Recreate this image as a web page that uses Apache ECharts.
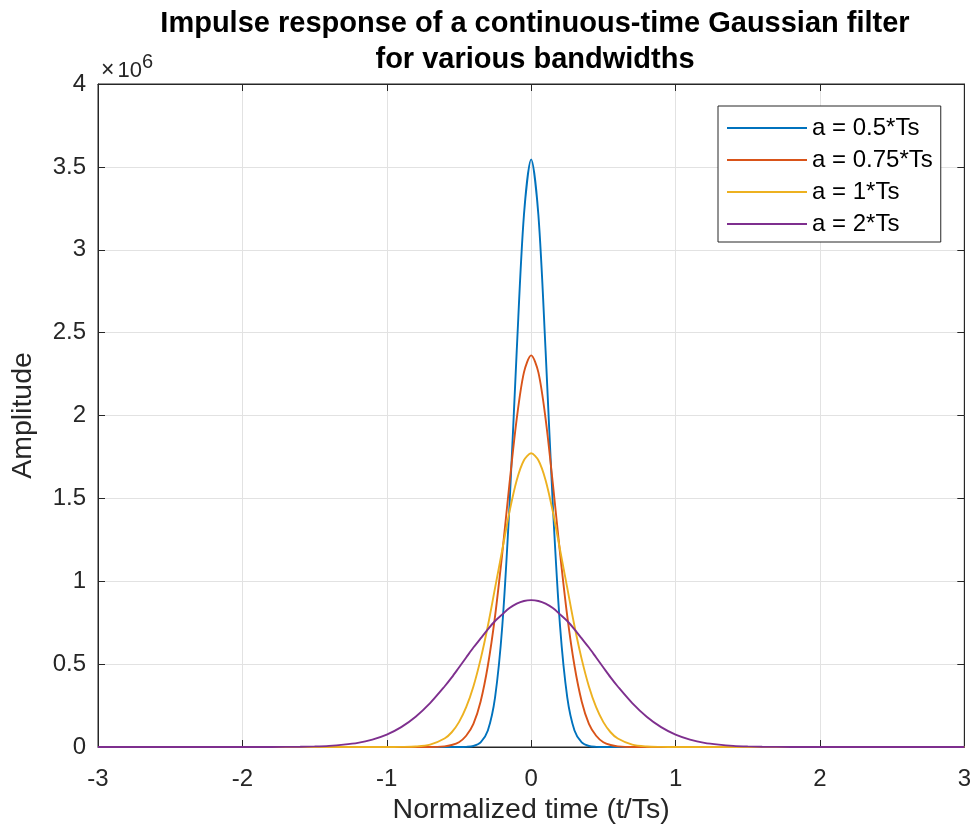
<!DOCTYPE html>
<html>
<head>
<meta charset="utf-8">
<script src="https://cdn.jsdelivr.net/npm/echarts@6/dist/echarts.min.js"></script>
<style>html,body{margin:0;padding:0;background:#fff}#c{width:974px;height:832px}</style>
</head>
<body>
<div id="c"></div>
<script>
// Normalized time (t/Ts)
const time = [-3, -2, -1.8, -1.6, -1.5, -1.4, -1.3, -1.2, -1.1, -1.0, -0.9, -0.8, -0.7, -0.6, -0.55, -0.5, -0.45, -0.4, -0.35, -0.3, -0.25, -0.2, -0.15, -0.1, -0.05,
  0,
  0.05, 0.1, 0.15, 0.2, 0.25, 0.3, 0.35, 0.4, 0.45, 0.5, 0.55, 0.6, 0.7, 0.8, 0.9, 1.0, 1.1, 1.2, 1.3, 1.4, 1.5, 1.6, 1.8, 2, 3];
// Amplitude in units of 1e6
const ampA05 = [0, 0, 0, 0, 0, 0, 0, 0, 0, 0, 0, 0, 0, 0, 0, 0, 0.001, 0.006, 0.028, 0.10, 0.30, 0.73, 1.46, 2.39, 3.21,
  3.545,
  3.21, 2.39, 1.46, 0.73, 0.30, 0.10, 0.028, 0.006, 0.001, 0, 0, 0, 0, 0, 0, 0, 0, 0, 0, 0, 0, 0, 0, 0, 0];
const ampA075 = [0, 0, 0, 0, 0, 0, 0, 0, 0, 0, 0, 0, 0, 0.004, 0.012, 0.029, 0.068, 0.14, 0.275, 0.49, 0.79, 1.17, 1.59, 1.98, 2.26,
  2.363,
  2.26, 1.98, 1.59, 1.17, 0.79, 0.49, 0.275, 0.14, 0.068, 0.029, 0.012, 0.004, 0, 0, 0, 0, 0, 0, 0, 0, 0, 0, 0, 0, 0];
const ampA1 = [0, 0, 0, 0, 0, 0, 0, 0, 0, 0, 0.0006, 0.003, 0.014, 0.051, 0.089, 0.15, 0.24, 0.365, 0.53, 0.73, 0.96, 1.19, 1.42, 1.61, 1.73,
  1.772,
  1.73, 1.61, 1.42, 1.19, 0.96, 0.73, 0.53, 0.365, 0.24, 0.15, 0.089, 0.051, 0.014, 0.003, 0.0006, 0, 0, 0, 0, 0, 0, 0, 0, 0, 0];
const ampA2 = [0, 0, 0.0003, 0.0016, 0.0035, 0.007, 0.014, 0.025, 0.045, 0.075, 0.12, 0.183, 0.265, 0.365, 0.42, 0.48, 0.54, 0.60, 0.655, 0.71, 0.76, 0.80, 0.838, 0.865, 0.881,
  0.886,
  0.881, 0.865, 0.838, 0.80, 0.76, 0.71, 0.655, 0.60, 0.54, 0.48, 0.42, 0.365, 0.265, 0.183, 0.12, 0.075, 0.045, 0.025, 0.014, 0.007, 0.0035, 0.0016, 0.0003, 0, 0];
const seriesNames = ['a = 0.5*Ts', 'a = 0.75*Ts', 'a = 1*Ts', 'a = 2*Ts'];
const seriesData = [ampA05, ampA075, ampA1, ampA2];
const colors = ['#0072BD', '#D95319', '#EDB120', '#7E2F8E'];

const FONT = '"Liberation Sans", Arial, Helvetica, sans-serif';
const chart = echarts.init(document.getElementById('c'), null, {renderer: 'canvas'});
function axisCommon(extra) {
  return Object.assign({
    axisLine: {show: true, onZero: false, lineStyle: {color: '#262626', width: 1}},
    axisTick: {show: true, inside: true, length: 7, lineStyle: {color: '#262626'}},
    splitLine: {show: false}
  }, extra);
}
const gridLine = {show: true, lineStyle: {color: '#e2e2e2', width: 1}};
chart.setOption({
  animation: false,
  color: colors,
  title: [{
    text: 'Impulse response of a continuous-time Gaussian filter\nfor various bandwidths',
    left: 530, top: 1, textAlign: 'center',
    textStyle: {fontFamily: FONT, fontWeight: 'bold', fontSize: 29, color: '#000', lineHeight: 36}
  }, {
    text: '{a|\u00d7}{c|10}{b|6}',
    left: 101, top: 52, padding: 0,
    textStyle: {fontWeight: 'normal', rich: {
      a: {fontFamily: FONT, fontWeight: 'normal', fontSize: 23, color: '#262626', verticalAlign: 'bottom', padding: [6, 3, 0, 0]},
      c: {fontFamily: FONT, fontWeight: 'normal', fontSize: 22, color: '#262626', verticalAlign: 'bottom', padding: [8, 0, 0, 0]},
      b: {fontFamily: FONT, fontWeight: 'normal', fontSize: 20, color: '#262626', verticalAlign: 'top'}
    }}
  }],
  legend: {
    orient: 'vertical', left: 718, top: 106,
    backgroundColor: '#fff', borderColor: '#262626', borderWidth: 1,
    padding: [10, 8, 6, 9], itemGap: 8, itemWidth: 80, itemHeight: 2,
    icon: 'rect',
    textStyle: {fontFamily: FONT, fontSize: 24, lineHeight: 24, color: '#000'},
    data: seriesNames
  },
  grid: {left: 98, right: 9, top: 84, bottom: 85, show: true, borderColor: '#262626', borderWidth: 1},
  xAxis: [axisCommon({
    type: 'value', min: -3, max: 3, interval: 1,
    name: 'Normalized time (t/Ts)', nameLocation: 'middle', nameGap: 37,
    nameTextStyle: {fontFamily: FONT, fontSize: 28.5, color: '#262626', verticalAlign: 'top'},
    axisLabel: {fontFamily: FONT, fontSize: 24, color: '#262626', margin: 20},
    splitLine: gridLine
  }),
  axisCommon({type: 'value', min: -3, max: 3, interval: 1, position: 'top', axisLabel: {show: false}})],
  yAxis: [axisCommon({
    type: 'value', min: 0, max: 4, interval: 0.5,
    name: 'Amplitude', nameLocation: 'middle', nameGap: 60,
    nameTextStyle: {fontFamily: FONT, fontSize: 28.5, color: '#262626'},
    axisLabel: {fontFamily: FONT, fontSize: 24, color: '#262626', margin: 12},
    splitLine: gridLine
  }),
  axisCommon({type: 'value', min: 0, max: 4, interval: 0.5, position: 'right', axisLabel: {show: false}})],
  series: seriesNames.map((n, i) => ({
    name: n, type: 'line', xAxisIndex: 0, yAxisIndex: 0,
    data: time.map((t, j) => [t, seriesData[i][j]]),
    showSymbol: false, symbol: 'none', smooth: 0.3,
    lineStyle: {width: 1.9, color: colors[i]}, itemStyle: {color: colors[i]}
  }))
});
</script>
</body>
</html>
